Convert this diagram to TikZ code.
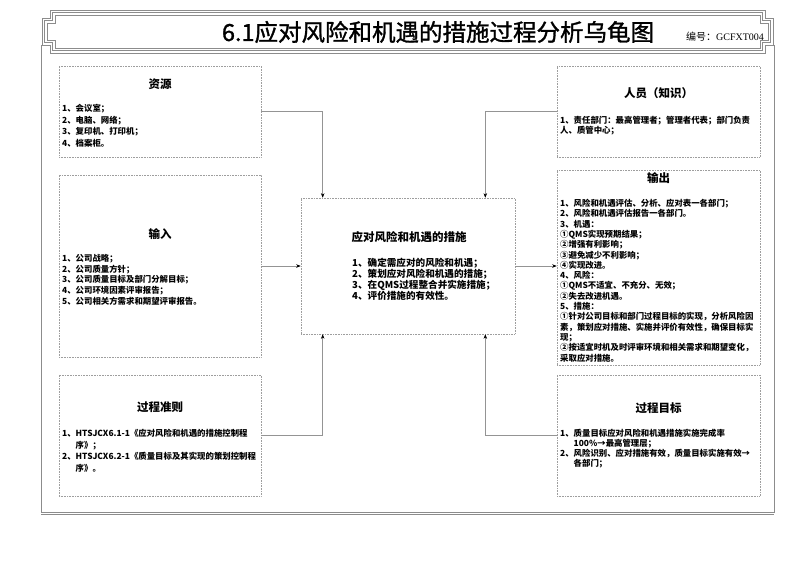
\documentclass[tikz,border=0pt]{standalone}
\usepackage{fontspec}
\setmainfont{Noto Sans CJK SC}
\newfontfamily\serifl{Liberation Serif}
\newfontfamily\titlef[FakeBold=1.3]{Noto Sans CJK SC}
\usetikzlibrary{arrows.meta}
\begin{document}
\begin{tikzpicture}[x=1pt,y=-1pt,
  box/.style={draw=black!38, densely dotted, line width=0.6pt, inner sep=0pt},
  ttl/.style={font=\fontsize{11.5}{13}\selectfont\bfseries, inner sep=0pt},
  body/.style={font=\fontsize{8.4}{#1}\selectfont\bfseries, inner sep=0pt, align=left, anchor=north west},
  cbody/.style={font=\fontsize{9.6}{#1}\selectfont\bfseries, inner sep=0pt, align=left, anchor=north west},
  conn/.style={draw=black!42, line width=0.5pt, -{Stealth[length=4.5pt,width=3.5pt,black]}},
  frameline/.style={draw=black!45, line width=0.5pt}]
\useasboundingbox (0,0) rectangle (800,566);
\fill[white] (0,0) rectangle (800,566);

% title band
\foreach \d in {0,2.5,5} {
  \draw[frameline] (50+\d,10+\d) -- (765-\d,10+\d) -- (765-\d,18+\d) -- (773-\d,18+\d)
    -- (773-\d,45-\d) -- (765-\d,45-\d) -- (765-\d,53-\d) -- (50+\d,53-\d)
    -- (50+\d,45-\d) -- (42+\d,45-\d) -- (42+\d,18+\d) -- (50+\d,18+\d) -- cycle;
}
% page frame
\draw[frameline] (41,45) -- (41,512) -- (774,512) -- (774,45);
\draw[frameline] (41,514) -- (774,514);

\node[inner sep=0pt, font=\fontsize{23.5}{26}\selectfont\titlef] (title) at (438,32) {6.1应对风险和机遇的措施过程分析乌龟图};
\node[inner sep=0pt, font=\fontsize{10}{12}\selectfont] (code) at (725,37) {编号：{\serifl GCFXT004}};

% boxes
\node[box, minimum width=202, minimum height=91] (zy) at (160,111.5) {};
\node[box, minimum width=202, minimum height=182] (sr) at (160,266) {};
\node[box, minimum width=202, minimum height=121] (gz) at (160,435.5) {};
\node[box, minimum width=214, minimum height=136] (c) at (408,266) {};
\node[box, minimum width=203, minimum height=91] (ry) at (658.5,111.5) {};
\node[box, minimum width=203, minimum height=195] (sc) at (658.5,267.5) {};
\node[box, minimum width=203, minimum height=121] (gm) at (658.5,435.5) {};

% texts
\node[ttl] (zyT) at (160,84) {资源};
\node[body=11.7] (zyB) at (62,104) {1、会议室；\\2、电脑、网络；\\3、复印机、打印机；\\4、档案柜。};

\node[ttl] (srT) at (160,234) {输入};
\node[body=10.8] (srB) at (62,254) {1、公司战略；\\2、公司质量方针；\\3、公司质量目标及部门分解目标；\\4、公司环境因素评审报告；\\5、公司相关方需求和期望评审报告。};

\node[ttl] (gzT) at (160,407) {过程准则};
\node[body=11.5] (gzB) at (62,429) {1、HTSJCX6.1-1《应对风险和机遇的措施控制程\\\phantom{1、}序》；\\2、HTSJCX6.2-1《质量目标及其实现的策划控制程\\\phantom{1、}序》。};

\node[ttl] (cT) at (409,237) {应对风险和机遇的措施};
\node[cbody=11.3] (cB) at (352,257.5) {1、确定需应对的风险和机遇；\\2、策划应对风险和机遇的措施；\\3、在QMS过程整合并实施措施；\\4、评价措施的有效性。};

\node[ttl] (ryT) at (658.5,93) {人员（知识）};
\node[body=10] (ryB) at (560,116) {1、责任部门：最高管理者；管理者代表；部门负责\\人、质管中心；};

\node[ttl] (scT) at (658.5,178) {输出};
\node[body=10.3] (scB) at (560,199) {1、风险和机遇评估、分析、应对表一各部门；\\2、风险和机遇评估报告一各部门。\\3、机遇：\\①QMS实现预期结果；\\②增强有利影响；\\③避免减少不利影响；\\④实现改进。\\4、风险：\\①QMS不适宜、不充分、无效；\\②失去改进机遇。\\5、措施：\\①针对公司目标和部门过程目标的实现，分析风险因\\素，策划应对措施、实施并评价有效性，确保目标实\\现；\\②按适宜时机及时评审环境和相关需求和期望变化，\\采取应对措施。};

\node[ttl] (gmT) at (658.5,408) {过程目标};
\node[body=10] (gmB) at (560,429) {1、质量目标应对风险和机遇措施实施完成率\\\phantom{1、}100\%→最高管理层；\\2、风险识别、应对措施有效，质量目标实施有效→\\\phantom{1、}各部门；};

% connectors
\draw[conn] (zy.east) -| ([xshift=22]c.north west);
\draw[conn] (ry.west) -| ([xshift=-30]c.north east);
\draw[conn] (sr.east) -- (c.west);
\draw[conn] (c.east) -- (c.east -| sc.west);
\draw[conn] (gz.east) -| ([xshift=22]c.south west);
\draw[conn] (gm.west) -| ([xshift=-30]c.south east);
\end{tikzpicture}
\end{document}
